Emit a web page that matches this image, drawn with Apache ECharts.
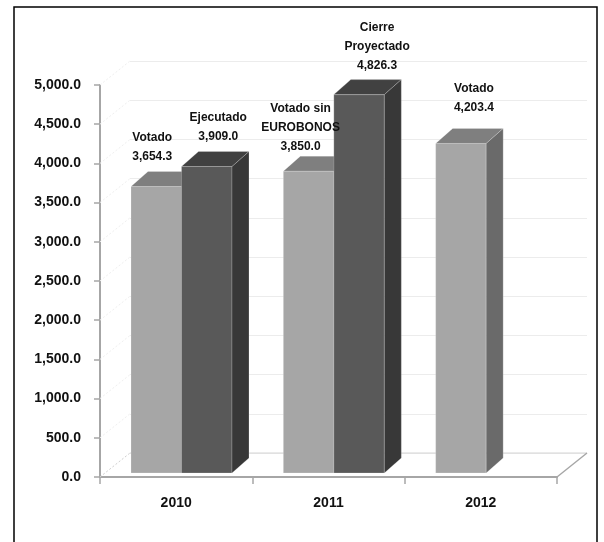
<!DOCTYPE html>
<html>
<head>
<meta charset="utf-8">
<script src="https://cdn.jsdelivr.net/npm/echarts@6/dist/echarts.min.js"></script>
<style>
html,body{margin:0;padding:0;background:#fff;}
#chart{width:604px;height:542px;}
</style>
</head>
<body>
<div id="chart"></div>
<script>
// ---- data ----
const categories = ['2010', '2011', '2012'];
const votadoValues = [3654.3, 3850.0, 4203.4];
const segundoValues = [3909.0, 4826.3, null];
const votadoLabels = ['Votado', 'Votado sin\nEUROBONOS', 'Votado'];
const segundoLabels = ['Ejecutado', 'Cierre\nProyectado', ''];
const yTicks = [0, 500, 1000, 1500, 2000, 2500, 3000, 3500, 4000, 4500, 5000];

// ---- style ----
const FONT = '"Liberation Sans", Arial, sans-serif';
const SLOT_START = [0.2035, 0.535];
const BAR_W = 0.3315;
const DX = 17, DY = -15, LIFT = 4;
const WALL_DX = 30, WALL_DY = -24;
const COLORS = [
  { front: '#a6a6a6', top: '#7f7f7f', side: '#6a6a6a' },
  { front: '#595959', top: '#414141', side: '#383838' }
];
const LABEL_OFFSETS = [
  [[-4, -20.5], [-8, -14.5], [13, -26]],
  [[11.5, -20], [18, -19.5], [0, -20]]
];

const fmt = v => Number(v).toLocaleString('en-US', { minimumFractionDigits: 1, maximumFractionDigits: 1 });

function barGeom(slot, api) {
  const i = api.value(0), v = api.value(1);
  const base = api.coord([i, 0]);
  const top = api.coord([i, v]);
  const bw = api.size([1, 0])[0];
  const x0 = base[0] - bw / 2 + bw * SLOT_START[slot];
  const x1 = x0 + bw * BAR_W;
  return { i, v, x0, x1, yb: base[1] - LIFT, yt: top[1] - LIFT };
}

function makeBarRender(slot) {
  const c = COLORS[slot];
  return function (params, api) {
    const g = barGeom(slot, api);
    const edge = 'rgba(255,255,255,0.35)';
    return {
      type: 'group',
      children: [
        { type: 'rect', shape: { x: g.x0, y: g.yt, width: g.x1 - g.x0, height: g.yb - g.yt },
          style: { fill: c.front, stroke: edge, lineWidth: 0.6 } },
        { type: 'polygon', shape: { points: [[g.x0, g.yt], [g.x0 + DX, g.yt + DY], [g.x1 + DX, g.yt + DY], [g.x1, g.yt]] },
          style: { fill: c.top, stroke: edge, lineWidth: 0.6 } },
        { type: 'polygon', shape: { points: [[g.x1, g.yt], [g.x1 + DX, g.yt + DY], [g.x1 + DX, g.yb + DY], [g.x1, g.yb]] },
          style: { fill: c.side, stroke: edge, lineWidth: 0.6 } }
      ]
    };
  };
}

function makeLabelRender(slot, names) {
  return function (params, api) {
    const g = barGeom(slot, api);
    const off = LABEL_OFFSETS[slot][g.i];
    const cx = (g.x0 + g.x1) / 2 + off[0];
    const y = g.yt + off[1];
    return {
      type: 'text',
      style: {
        text: names[g.i] + '\n' + fmt(g.v),
        x: cx, y: y,
        align: 'center', verticalAlign: 'bottom',
        fontFamily: FONT, fontWeight: 'bold', fontSize: 12, lineHeight: 19,
        fill: '#111'
      }
    };
  };
}

const dataA = votadoValues.map((v, i) => (v == null ? null : [i, v])).filter(Boolean);
const dataB = segundoValues.map((v, i) => (v == null ? null : [i, v])).filter(Boolean);

const chart = echarts.init(document.getElementById('chart'), null, { renderer: 'canvas' });

chart.setOption({
  animation: false,
  backgroundColor: '#fff',
  graphic: [
    { type: 'rect', shape: { x: 14, y: 7, width: 583, height: 560 },
      style: { fill: 'none', stroke: '#000', lineWidth: 1.5 }, z: 100 }
  ],
  grid: [
    { left: 100, top: 85, width: 457, height: 392 },
    { left: 100 + WALL_DX, top: 85 + WALL_DY, width: 457, height: 392 }
  ],
  xAxis: [
    { type: 'category', gridIndex: 0, data: categories, boundaryGap: true,
      axisLine: { lineStyle: { color: '#a6a6a6', width: 2 } },
      axisTick: { show: true, length: 7, lineStyle: { color: '#a6a6a6', width: 1.5 } },
      axisLabel: { margin: 19, color: '#111', fontFamily: FONT, fontWeight: 'bold', fontSize: 14 },
      splitLine: { show: false } },
    { type: 'category', gridIndex: 1, data: categories, show: false }
  ],
  yAxis: [
    { type: 'value', gridIndex: 0, min: 0, max: 5000, interval: 500,
      axisLine: { show: true, lineStyle: { color: '#a6a6a6', width: 2 } },
      axisTick: { show: true, length: 6, lineStyle: { color: '#a6a6a6', width: 1.5 } },
      axisLabel: { margin: 19, color: '#111', fontFamily: FONT, fontWeight: 'bold', fontSize: 14,
        formatter: v => fmt(v) },
      splitLine: { show: false } },
    { type: 'value', gridIndex: 1, min: 0, max: 5000, interval: 500,
      axisLine: { show: false }, axisTick: { show: false }, axisLabel: { show: false },
      splitLine: { show: true, lineStyle: { color: '#ececec', width: 1 } } }
  ],
  series: [
    { // left wall diagonals (one per tick)
      type: 'custom', xAxisIndex: 0, yAxisIndex: 0, z: 1, silent: true,
      data: yTicks.map(v => [0, v]),
      renderItem: function (params, api) {
        const p = api.coord([0, api.value(1)]);
        const x = params.coordSys.x;
        const isFloor = api.value(1) === 0;
        return { type: 'line', shape: { x1: x, y1: p[1], x2: x + WALL_DX, y2: p[1] + WALL_DY },
          style: { stroke: isFloor ? '#cfcfcf' : '#efefef', lineWidth: 1, lineDash: [2, 2] } };
      }
    },
    { // floor back edge and right edge
      type: 'custom', xAxisIndex: 0, yAxisIndex: 0, z: 1, silent: true,
      data: [[0, 0]],
      renderItem: function (params, api) {
        const cs = params.coordSys;
        const yb = api.coord([0, 0])[1];
        const xr = cs.x + cs.width;
        return { type: 'group', children: [
          { type: 'line', shape: { x1: cs.x + WALL_DX, y1: yb + WALL_DY, x2: xr + WALL_DX, y2: yb + WALL_DY },
            style: { stroke: '#d6d6d6', lineWidth: 1.2 } },
          { type: 'line', shape: { x1: xr, y1: yb, x2: xr + WALL_DX, y2: yb + WALL_DY },
            style: { stroke: '#a6a6a6', lineWidth: 1.5 } }
        ] };
      }
    },
    { name: 'Votado', type: 'custom', xAxisIndex: 0, yAxisIndex: 0, z: 3,
      data: dataA, renderItem: makeBarRender(0) },
    { name: 'Segundo', type: 'custom', xAxisIndex: 0, yAxisIndex: 0, z: 4,
      data: dataB, renderItem: makeBarRender(1) },
    { type: 'custom', xAxisIndex: 0, yAxisIndex: 0, z: 10, silent: true,
      data: dataA, renderItem: makeLabelRender(0, votadoLabels) },
    { type: 'custom', xAxisIndex: 0, yAxisIndex: 0, z: 10, silent: true,
      data: dataB, renderItem: makeLabelRender(1, segundoLabels) }
  ]
});
</script>
</body>
</html>
